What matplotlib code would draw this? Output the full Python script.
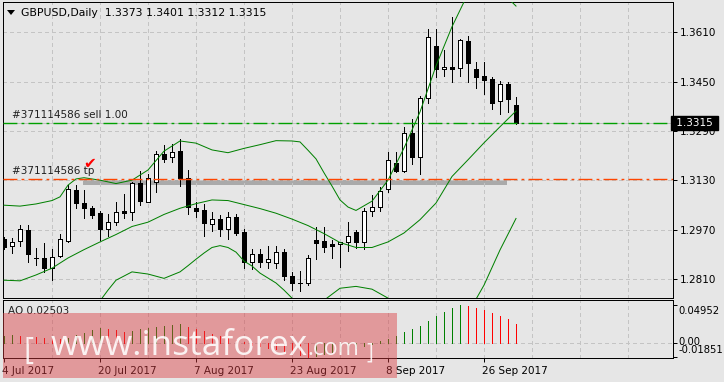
import numpy as np
import matplotlib.pyplot as plt
from matplotlib.patches import Rectangle, Polygon
from matplotlib.transforms import ScaledTranslation, blended_transform_factory

W, H = 724, 382

# daily candles, 4 Jul 2017 .. 2 Oct 2017
opens = [1.2940, 1.2918, 1.2934, 1.2969, 1.2880, 1.2878, 1.2845, 1.2885, 1.2934, 1.3099,
         1.3056, 1.3040, 1.3024, 1.2972, 1.2995, 1.3031, 1.3028, 1.3121, 1.3061, 1.3124,
         1.3215, 1.3205, 1.3225, 1.3137, 1.3042, 1.3034, 1.2988, 1.3004, 1.2974, 1.3011,
         1.2962, 1.2867, 1.2891, 1.2865, 1.2862, 1.2897, 1.2820, 1.2797, 1.2799, 1.2937,
         1.2934, 1.2924, 1.2923, 1.2930, 1.2964, 1.2931, 1.3032, 1.3043, 1.3101, 1.3186,
         1.3162, 1.3283, 1.3207, 1.3396, 1.3566, 1.3491, 1.3499, 1.3493, 1.3582, 1.3491,
         1.3468, 1.3459, 1.3387, 1.3442, 1.3373]
highs = [1.2947, 1.2943, 1.2986, 1.2986, 1.2910, 1.2926, 1.2907, 1.2956, 1.3115, 1.3115,
         1.3099, 1.3048, 1.3031, 1.3020, 1.3061, 1.3085, 1.3126, 1.3161, 1.3150, 1.3225,
         1.3245, 1.3248, 1.3264, 1.3164, 1.3059, 1.3054, 1.3027, 1.3018, 1.3029, 1.3020,
         1.2972, 1.2907, 1.2907, 1.2918, 1.2918, 1.2908, 1.2834, 1.2837, 1.2888, 1.2978,
         1.2978, 1.2937, 1.2931, 1.2995, 1.2969, 1.3040, 1.3083, 1.3110, 1.3223, 1.3223,
         1.3302, 1.3329, 1.3404, 1.3620, 1.3620, 1.3553, 1.3661, 1.3588, 1.3599, 1.3515,
         1.3515, 1.3466, 1.3453, 1.3448, 1.3401]
lows = [1.2908, 1.2894, 1.2918, 1.2865, 1.2856, 1.2832, 1.2807, 1.2883, 1.2931, 1.3042,
        1.3007, 1.3009, 1.2937, 1.2951, 1.2986, 1.3007, 1.3002, 1.3050, 1.3059, 1.3094,
        1.3191, 1.3191, 1.3113, 1.3021, 1.3013, 1.2951, 1.2967, 1.2951, 1.2939, 1.2953,
        1.2845, 1.2843, 1.2851, 1.2847, 1.2847, 1.2807, 1.2775, 1.2773, 1.2791, 1.2875,
        1.2899, 1.2878, 1.2851, 1.2902, 1.2910, 1.2907, 1.3015, 1.3032, 1.3094, 1.3158,
        1.3158, 1.3183, 1.3151, 1.3382, 1.3464, 1.3469, 1.3450, 1.3469, 1.3450, 1.3430,
        1.3409, 1.3362, 1.3344, 1.3353, 1.3312]
closes = [1.2914, 1.2931, 1.2972, 1.2891, 1.2881, 1.2845, 1.2881, 1.2939, 1.3102, 1.3056,
          1.3040, 1.3018, 1.2972, 1.2995, 1.3027, 1.3024, 1.3121, 1.3064, 1.3137, 1.3215,
          1.3199, 1.3221, 1.3137, 1.3045, 1.3031, 1.2991, 1.3004, 1.2974, 1.3011, 1.2961,
          1.2867, 1.2891, 1.2867, 1.2876, 1.2897, 1.2822, 1.2797, 1.2797, 1.2878, 1.2928,
          1.2915, 1.2918, 1.2930, 1.2950, 1.2931, 1.3032, 1.3043, 1.3097, 1.3196, 1.3162,
          1.3283, 1.3207, 1.3396, 1.3594, 1.3491, 1.3499, 1.3491, 1.3585, 1.3510, 1.3466,
          1.3455, 1.3382, 1.3442, 1.3394, 1.3315]

# bollinger bands (at these bars)
upper_idx = [0, 2, 4, 6, 7, 8, 9, 10, 12, 14, 16, 18, 20, 22, 24, 26, 28, 30, 32, 34,
             36, 37, 38, 39, 40, 41, 42, 43, 44, 46, 48, 50, 52, 54, 56, 58, 60, 62, 64]
bb_upper = [1.3050, 1.3047, 1.3054, 1.3065, 1.3077, 1.3115, 1.3135, 1.3139, 1.3131, 1.3120,
            1.3131, 1.3164, 1.3225, 1.3258, 1.3251, 1.3229, 1.3220, 1.3234, 1.3246, 1.3259,
            1.3258, 1.3255, 1.3228, 1.3200, 1.3155, 1.3112, 1.3067, 1.3044, 1.3033, 1.3063,
            1.3131, 1.3235, 1.3352, 1.3501, 1.3628, 1.3735, 1.3765, 1.3745, 1.3695]
mid_idx = list(range(0, 65, 2))
bb_mid = [1.2807, 1.2805, 1.2824, 1.2846, 1.2879, 1.2906, 1.2931, 1.2955, 1.2981, 1.2995,
          1.3020, 1.3040, 1.3055, 1.3067, 1.3065, 1.3052, 1.3039, 1.3024, 1.3005, 1.2984,
          1.2958, 1.2929, 1.2913, 1.2913, 1.2931, 1.2960, 1.3003, 1.3057, 1.3143, 1.3197,
          1.3252, 1.3304, 1.3355]
lower_idx = [0, 2, 4, 6, 8, 10, 12, 13, 14, 16, 18, 20, 22, 23, 24, 25, 26, 27, 28, 29,
             30, 31, 32, 34, 35, 36, 38, 40, 42, 44, 46, 48, 50, 52, 54, 56, 58, 60, 62, 64]
bb_lower = [1.2560, 1.2565, 1.2590, 1.2625, 1.2640, 1.2670, 1.2740, 1.2775, 1.2807, 1.2834,
            1.2827, 1.2813, 1.2834, 1.2854, 1.2875, 1.2895, 1.2913, 1.2919, 1.2913, 1.2898,
            1.2869, 1.2853, 1.2830, 1.2798, 1.2775, 1.2749, 1.2722, 1.2742, 1.2781, 1.2787,
            1.2778, 1.2749, 1.2690, 1.2650, 1.2610, 1.2655, 1.2700, 1.2791, 1.2905, 1.3007]

# awesome oscillator
ao = [0.0092, 0.0097, 0.0086, 0.0078, 0.0072, 0.0068, 0.0057, 0.0044, 0.0057, 0.0097,
      0.0132, 0.0168, 0.0190, 0.0176, 0.0163, 0.0143, 0.0152, 0.0185, 0.0199, 0.0212,
      0.0222, 0.0234, 0.0243, 0.0207, 0.0185, 0.0150, 0.0118, 0.0090, 0.0068, 0.0040,
      0.0005, -0.0025, -0.0050, -0.0072, -0.0090, -0.0115, -0.0142, -0.0168, -0.01851, -0.0172,
      -0.0150, -0.0128, -0.0105, -0.0085, -0.0068, -0.0040, -0.0012, 0.0018, 0.0053, 0.0095,
      0.0146, 0.0185, 0.0221, 0.0287, 0.0354, 0.0407, 0.0456, 0.04952, 0.0486, 0.0460,
      0.0433, 0.0397, 0.0354, 0.0318, 0.02503]

date_pos = [0, 12, 24, 36, 48, 60]
date_labels = ['4 Jul 2017', '20 Jul 2017', '7 Aug 2017', '23 Aug 2017', '8 Sep 2017', '26 Sep 2017']
price_ticks = [1.2810, 1.2970, 1.3130, 1.3290, 1.3450, 1.3610]
ao_ticks = [0.04952, 0.0, -0.01851]
ao_tick_labels = ['0.04952', '0.00', '-0.01851']

sell_price = 1.3315
tp_price = 1.3135
zone_lo, zone_hi = 1.3115, 1.3133
zone_start, zone_end = 9.9, 62.9

BG = '#e6e6e6'
GRID = '#c4c4c4'
LW = 0.72
FS = 7.5

def fx(px):
    return px / W

def fy(py):
    return 1 - py / H

fig = plt.figure(figsize=(W / 100, H / 100), dpi=100)
fig.patch.set_facecolor(BG)

ax = fig.add_axes([fx(3), fy(298), fx(673) - fx(3), fy(2) - fy(298)])
ax2 = fig.add_axes([fx(3), fy(357.7), fx(673) - fx(3), fy(300.3) - fy(357.7)])

n = len(opens)
xs = np.arange(n)
xlim = (-0.125, 83.625)

for a in (ax, ax2):
    a.set_facecolor(BG)
    a.set_xlim(*xlim)
    for s in a.spines.values():
        s.set_color('black')
        s.set_linewidth(LW)
    for v in range(6, 84, 6):
        a.axvline(v, color=GRID, lw=LW, ls=(0, (4, 3)), zorder=1.5, antialiased=False)

# main chart
ax.set_ylim(1.27494, 1.37081)
for p in price_ticks:
    ax.axhline(p, color=GRID, lw=LW, ls=(0, (4, 3)), zorder=1.5, antialiased=False)

ax.add_patch(Rectangle((zone_start, zone_lo), zone_end - zone_start, zone_hi - zone_lo,
                       facecolor='#aaaaaa', edgecolor='none', zorder=1, antialiased=False))

for i in range(n):
    o, h, l, c = opens[i], highs[i], lows[i], closes[i]
    ax.vlines(i, l, h, color='black', lw=LW, zorder=3, antialiased=False)
    if abs(c - o) < 0.00015:
        ax.hlines(o, i - 0.3, i + 0.3, color='black', lw=LW, zorder=3.5, antialiased=False)
    else:
        ax.add_patch(Rectangle((i - 0.3, min(o, c)), 0.6, abs(c - o),
                               facecolor='white' if c > o else 'black',
                               edgecolor='black', lw=LW, zorder=3.5, antialiased=False))

for bx, band in ((upper_idx, bb_upper), (mid_idx, bb_mid), (lower_idx, bb_lower)):
    ax.plot(bx, band, color='#008000', lw=LW, zorder=4)

# order lines: bid line underneath, then sell (green) and take profit (orange)
ax.plot(xlim, [sell_price, sell_price], color='#c0c0c0', lw=LW, zorder=2, antialiased=False)
ax.plot(xlim, [sell_price, sell_price], color='#00a000', lw=1.0,
        ls=(0, (10, 3, 2, 3)), dash_capstyle='butt', zorder=4.6)
ax.plot(xlim, [tp_price, tp_price], color='#ff4500', lw=1.0,
        ls=(0, (10, 3, 2, 3)), dash_capstyle='butt', zorder=4.6)

ax.annotate('#371114586 sell 1.00', (0.0, sell_price),
            xycoords=blended_transform_factory(ax.transAxes, ax.transData),
            xytext=(6.5, 2.2), textcoords='offset points', fontsize=FS,
            color='#202020', va='bottom', ha='left')
ax.annotate('#371114586 tp', (0.0, tp_price),
            xycoords=blended_transform_factory(ax.transAxes, ax.transData),
            xytext=(6.5, 2.2), textcoords='offset points', fontsize=FS,
            color='#202020', va='bottom', ha='left')
ax.annotate('\u2714', (10.75, tp_price), xytext=(0, 11), textcoords='offset points',
            fontsize=11, color='red', ha='center', va='center', zorder=6)

ax.yaxis.tick_right()
ax.set_yticks(price_ticks)
ax.set_yticklabels([f'{p:.4f}' for p in price_ticks])
ax.tick_params(axis='y', length=3, width=LW, pad=2, labelsize=FS, colors='black')
ax.tick_params(axis='x', length=0, labelbottom=False)

ax.text(1.0, sell_price, ' 1.3315 ', transform=blended_transform_factory(ax.transAxes, ax.transData),
        ha='left', va='center', color='white', fontsize=FS, clip_on=False, zorder=10,
        bbox=dict(boxstyle='square,pad=0.18', facecolor='black', edgecolor='black'))

# AO window
ax2.set_ylim(-0.0199, 0.0562)
ax2.axhline(0, color=GRID, lw=LW, ls=(0, (4, 3)), zorder=1.5, antialiased=False)
colors = ['#008000'] + ['#008000' if ao[i] > ao[i - 1] else '#ff0000' for i in range(1, n)]
ax2.vlines(xs, 0, ao, colors=colors, lw=LW, zorder=3, antialiased=False)
ax2.text(0.0, 1.0, 'AO 0.02503', transform=ax2.transAxes + ScaledTranslation(5 / 100, -10.7 / 100, fig.dpi_scale_trans),
         fontsize=FS, va='center', ha='left', color='#202020')

ax2.yaxis.tick_right()
ax2.set_yticks(ao_ticks)
ax2.set_yticklabels(ao_tick_labels)
ax2.tick_params(axis='y', length=3, width=LW, pad=1, labelsize=7.2, colors='black')
for lab, dy in zip(ax2.get_yticklabels(), [-4.7, 1.7, 7.7]):
    lab.set_transform(lab.get_transform() + ScaledTranslation(0, dy / 100, fig.dpi_scale_trans))

ax2.set_xticks(date_pos)
ax2.set_xticklabels(date_labels)
ax2.tick_params(axis='x', length=3, width=LW, pad=3, labelsize=FS, colors='black')
for lab in ax2.get_xticklabels():
    lab.set_horizontalalignment('left')
    lab.set_transform(lab.get_transform() + ScaledTranslation(-1.5 / 100, 0, fig.dpi_scale_trans))

# header
fig.patches.append(Polygon([[fx(7), fy(10)], [fx(15), fy(10)], [fx(11), fy(15)]],
                           closed=True, transform=fig.transFigure, facecolor='black',
                           edgecolor='none', zorder=5))
fig.text(fx(21), fy(12.7), 'GBPUSD,Daily  1.3373 1.3401 1.3312 1.3315',
         fontsize=7.8, va='center', ha='left', color='black')

# watermark
fig.patches.append(Rectangle((fx(3), fy(378)), fx(397) - fx(3), fy(313) - fy(378),
                             transform=fig.transFigure, facecolor=(220 / 255, 60 / 255, 65 / 255),
                             alpha=0.45, edgecolor='none', zorder=20))
wm = dict(color='white', alpha=0.88, family='Open Sans', va='baseline', ha='left', zorder=21)
fig.text(fx(23), fy(359), '[', fontsize=22, **wm)
fig.text(fx(51), fy(355), 'www.instaforex', fontsize=25.5, **wm)
fig.text(fx(307), fy(355), '.com', fontsize=16.5, **wm)
fig.text(fx(366), fy(359), ']', fontsize=15, **wm)

fig.savefig('out.png', dpi=100, facecolor=BG)
